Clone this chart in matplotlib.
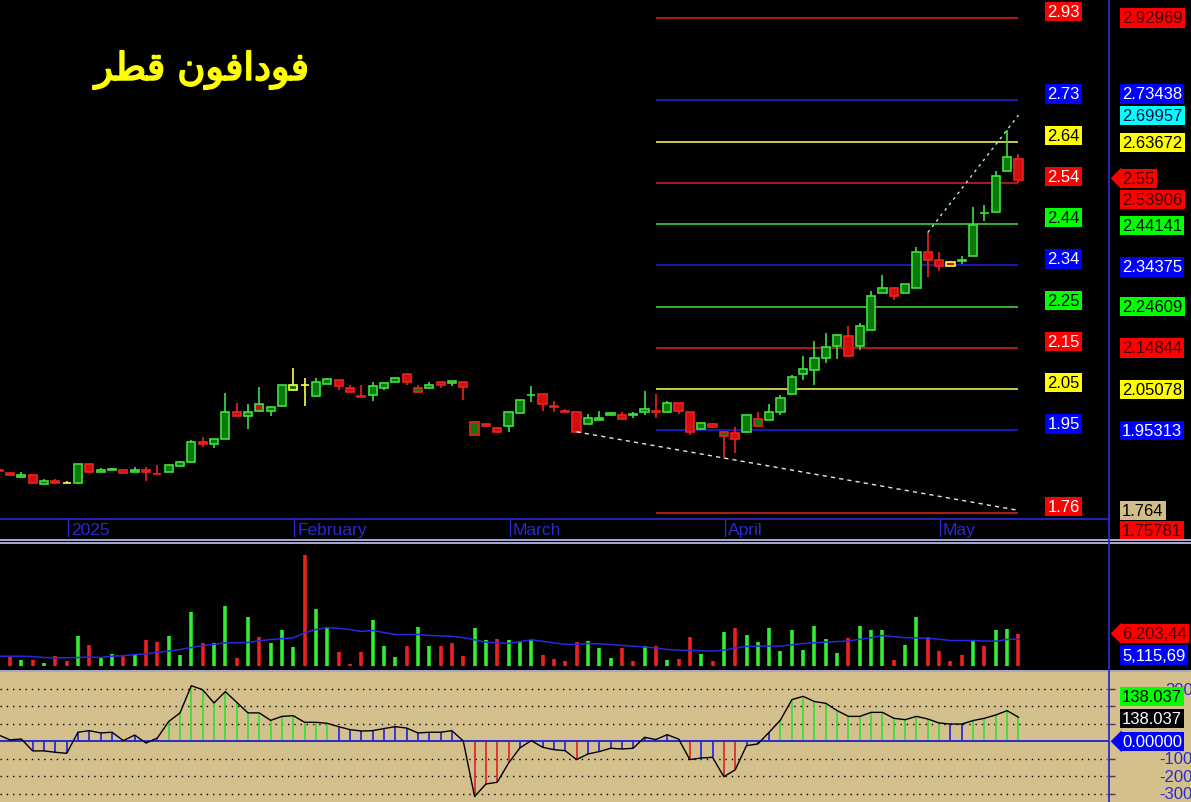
import numpy as np
import matplotlib
matplotlib.use('Agg')
import matplotlib.pyplot as plt
import matplotlib.patheffects as pe
from matplotlib.lines import Line2D
from matplotlib.patches import Polygon
from matplotlib.transforms import IdentityTransform

title = 'فودافون قطر'

opens = [1.860, 1.852, 1.844, 1.847, 1.827, 1.833, 1.828, 1.828, 1.873, 1.856,
         1.859, 1.859, 1.854, 1.860, 1.851, 1.854, 1.869, 1.878, 1.926, 1.922,
         1.934, 1.998, 1.988, 2.015, 2.000, 2.010, 2.048, 2.061, 2.035, 2.064,
         2.073, 2.054, 2.034, 2.038, 2.053, 2.069, 2.087, 2.045, 2.053, 2.067,
         2.070, 2.067, 1.943, 1.964, 1.959, 1.964, 1.994, 2.036, 2.039, 2.011,
         1.999, 1.996, 1.968, 1.979, 1.989, 1.990, 1.992, 1.998, 2.000, 1.998,
         2.018, 1.998, 1.957, 1.969, 1.941, 1.948, 1.949, 1.964, 1.978, 1.996,
         2.039, 2.088, 2.097, 2.124, 2.154, 2.176, 2.154, 2.191, 2.278, 2.290,
         2.278, 2.290, 2.376, 2.357, 2.352, 2.356, 2.366, 2.469, 2.470, 2.567,
         2.597]
highs = [1.861, 1.853, 1.856, 1.848, 1.838, 1.838, 1.833, 1.873, 1.873, 1.864,
         1.864, 1.859, 1.866, 1.866, 1.871, 1.872, 1.882, 1.930, 1.937, 1.934,
         2.043, 2.018, 2.016, 2.055, 2.008, 2.061, 2.101, 2.077, 2.077, 2.077,
         2.073, 2.061, 2.061, 2.067, 2.065, 2.079, 2.087, 2.061, 2.069, 2.067,
         2.070, 2.067, 1.974, 1.970, 1.962, 1.996, 2.025, 2.059, 2.039, 2.024,
         2.005, 1.996, 1.992, 1.999, 1.996, 1.998, 1.998, 2.047, 2.039, 2.024,
         2.018, 1.998, 1.972, 1.972, 1.952, 1.961, 1.990, 1.996, 2.016, 2.037,
         2.085, 2.130, 2.164, 2.185, 2.182, 2.200, 2.207, 2.283, 2.321, 2.292,
         2.299, 2.387, 2.422, 2.375, 2.355, 2.367, 2.483, 2.487, 2.567, 2.665,
         2.608]
lows = [1.856, 1.846, 1.840, 1.828, 1.826, 1.826, 1.828, 1.827, 1.854, 1.856,
        1.859, 1.852, 1.854, 1.834, 1.850, 1.854, 1.869, 1.878, 1.915, 1.911,
        1.934, 1.988, 1.957, 2.000, 1.988, 2.010, 2.048, 2.012, 2.035, 2.063,
        2.050, 2.044, 2.033, 2.024, 2.050, 2.069, 2.061, 2.045, 2.053, 2.054,
        2.059, 2.026, 1.943, 1.964, 1.949, 1.950, 1.994, 2.021, 2.000, 1.998,
        1.998, 1.950, 1.968, 1.979, 1.989, 1.981, 1.983, 1.990, 1.983, 1.998,
        1.992, 1.942, 1.955, 1.960, 1.889, 1.900, 1.947, 1.962, 1.978, 1.990,
        2.039, 2.073, 2.062, 2.112, 2.122, 2.129, 2.144, 2.191, 2.278, 2.263,
        2.278, 2.290, 2.316, 2.331, 2.343, 2.347, 2.366, 2.448, 2.470, 2.567,
        2.539]
closes = [1.857, 1.847, 1.848, 1.828, 1.833, 1.828, 1.828, 1.873, 1.854, 1.860,
          1.863, 1.852, 1.860, 1.855, 1.850, 1.872, 1.878, 1.927, 1.921, 1.933,
          1.998, 1.988, 1.998, 2.000, 2.008, 2.061, 2.061, 2.061, 2.069, 2.075,
          2.059, 2.044, 2.033, 2.058, 2.065, 2.077, 2.067, 2.053, 2.061, 2.060,
          2.066, 2.057, 1.974, 1.968, 1.949, 1.996, 2.025, 2.038, 2.017, 2.009,
          1.998, 1.950, 1.982, 1.983, 1.994, 1.981, 1.990, 2.004, 1.998, 2.018,
          1.999, 1.950, 1.970, 1.962, 1.950, 1.933, 1.990, 1.980, 1.998, 2.029,
          2.079, 2.099, 2.124, 2.150, 2.179, 2.129, 2.200, 2.272, 2.290, 2.271,
          2.299, 2.376, 2.357, 2.343, 2.343, 2.355, 2.440, 2.468, 2.555, 2.600,
          2.546]

# volume in millions of shares
volume = [1.69, 1.87, 1.16, 1.16, 0.58, 1.87, 0.78, 5.76, 3.94, 1.49,
          2.26, 2.13, 2.07, 5.04, 4.52, 5.76, 2.13, 10.28, 4.27, 4.46,
          11.63, 1.49, 9.44, 5.62, 4.27, 6.98, 3.68, 21.52, 11.05, 7.50,
          2.71, 0.20, 2.71, 8.92, 3.82, 1.74, 3.88, 7.50, 3.88, 3.88,
          4.46, 1.87, 7.37, 5.04, 5.23, 5.04, 4.65, 5.04, 2.13, 1.36,
          0.78, 4.65, 4.85, 3.49, 1.55, 3.49, 0.78, 3.88, 3.88, 1.16,
          1.36, 5.49, 2.33, 0.97, 6.59, 7.23, 5.82, 4.65, 7.37, 2.91,
          6.98, 3.10, 7.75, 5.23, 2.52, 5.43, 7.75, 6.85, 6.98, 1.16,
          4.07, 9.31, 5.62, 2.91, 0.78, 2.13, 5.04, 3.88, 6.79, 7.17,
          6.20344]
volume_avg = [1.81, 1.81, 1.81, 1.74, 1.55, 1.50, 1.50, 1.55, 1.65, 1.55,
              1.81, 1.90, 2.13, 2.25, 2.58, 2.80, 3.10, 3.50, 3.88, 4.10,
              4.40, 4.42, 4.46, 4.80, 5.04, 5.20, 5.37, 6.34, 6.98, 7.37,
              7.20, 6.98, 6.60, 6.80, 6.40, 6.01, 6.01, 6.01, 5.82, 5.75,
              5.68, 5.40, 5.00, 4.52, 4.40, 4.30, 4.60, 5.00, 4.70, 4.40,
              4.10, 4.10, 4.27, 4.20, 4.07, 3.90, 3.75, 3.60, 3.42, 3.10,
              3.00, 2.95, 2.85, 2.80, 2.95, 3.40, 3.70, 3.75, 3.75, 3.75,
              4.00, 4.27, 4.40, 4.55, 4.65, 4.75, 5.10, 5.40, 5.82, 5.60,
              5.37, 5.37, 5.30, 5.10, 4.85, 4.85, 4.85, 4.75, 4.72, 5.05,
              5.11569]
cci = [36, 8, 13, -55, -55, -63, -69, 52, 61, 48,
       52, 4, 36, -10, 19, 113, 163, 319, 296, 220,
       285, 224, 163, 163, 120, 143, 147, 109, 109, 103,
       84, 67, 59, 61, 73, 84, 76, 48, 52, 52,
       61, 2, -317, -245, -235, -125, -38, 4, -34, -48,
       -54, -105, -73, -59, -40, -44, -40, 23, 10, 38,
       13, -105, -96, -92, -203, -164, -25, -15, 52, 122,
       239, 258, 228, 218, 176, 143, 143, 166, 166, 132,
       124, 143, 128, 105, 99, 99, 119, 132, 151, 176,
       138.037]

month_names = ['2025', 'February', 'March', 'April', 'May']
month_bars = [6, 26, 45, 64, 83]

levels = [2.92969, 2.73438, 2.63672, 2.53906, 2.44141, 2.34375,
          2.24609, 2.14844, 2.05078, 1.95313, 1.75781]
level_kinds = ['r', 'b', 'y', 'r', 'g', 'b', 'g', 'r', 'y', 'b', 'r']

support_line = [(51, 1.950), (90, 1.764)]
resist_line = [(82, 2.422), (90, 2.69957)]
last_price = 2.55
cci_levels = [300, -100, -200, -300]
cci_grid = [300, 200, 100, -100, -200, -300]

# ---------------------------------------------------------------
FORMS = {  # isolated, final, initial, medial
    'ف': ('\uFED1', '\uFED2', '\uFED3', '\uFED4'),
    'ق': ('\uFED5', '\uFED6', '\uFED7', '\uFED8'),
    'ط': ('\uFEC1', '\uFEC2', '\uFEC3', '\uFEC4'),
    'ن': ('\uFEE5', '\uFEE6', '\uFEE7', '\uFEE8'),
    'و': ('\uFEED', '\uFEEE', None, None),
    'د': ('\uFEA9', '\uFEAA', None, None),
    'ا': ('\uFE8D', '\uFE8E', None, None),
    'ر': ('\uFEAD', '\uFEAE', None, None),
}


def shape_arabic(s):
    # matplotlib has no arabic shaping: pick joined forms and reverse for display
    out = []
    for k, ch in enumerate(s):
        if ch not in FORMS:
            out.append(ch)
            continue
        prev = s[k - 1] if k > 0 else ' '
        nxt = s[k + 1] if k + 1 < len(s) else ' '
        jp = prev in FORMS and FORMS[prev][2] is not None
        jn = FORMS[ch][2] is not None and nxt in FORMS
        f = FORMS[ch]
        out.append(f[3] if jp and jn else f[1] if jp else f[2] if jn else f[0])
    return ''.join(reversed(out))


W, H = 1191, 803
BLUE = '#2a2ad2'
TAN = '#d3c08c'
FONT = 'Liberation Sans'

n = len(closes)
x = np.arange(n)
o = np.array(opens); c = np.array(closes)
prev_c = np.r_[o[0], c[:-1]]
edge = np.where(np.isclose(c, prev_c), '#ffff40', np.where(c > prev_c, '#40e040', '#f02020'))
fill = np.where(np.isclose(c, o), '#000000', np.where(c > o, '#0a780a', '#d01010'))

fig = plt.figure(figsize=(W / 100, H / 100), dpi=100, facecolor='black')
XL = (0.115, 105.23)  # bar index at left / right figure edge


def add_ax(top, bottom, bg):
    a = fig.add_axes([0, 1 - bottom / H, 1, (bottom - top) / H], facecolor=bg)
    a.set_xlim(*XL)
    a.set_xticks([]); a.set_yticks([])
    for s in a.spines.values():
        s.set_visible(False)
    return a


ax = add_ax(0, 540, 'black')
ax.set_ylim(1.69625, 2.97467)
axv = add_ax(544, 669, 'black')
axv.set_ylim(-0.48, 23.75)
axc = add_ax(673, 803, TAN)
axc.set_ylim(-348.3, 397.6)

# --- candles
ax.vlines(x, lows, highs, colors=edge, lw=1.2, zorder=2)
ax.bar(x, np.abs(c - o), bottom=np.minimum(o, c), width=0.72, color=fill,
       edgecolor=edge, linewidth=1.2, zorder=3)

# --- levels
line_col = {'r': '#e02020', 'b': '#2020e8', 'y': '#ffff60', 'g': '#40e040'}
box_col = {'r': '#ff0000', 'b': '#0000ff', 'y': '#ffff00', 'g': '#00ff00'}
txt_col = {'r': 'white', 'b': 'white', 'y': 'black', 'g': 'black'}
rtxt_col = {'r': '#3a0000', 'b': 'white', 'y': 'black', 'g': 'black'}
ax.hlines(levels, 58, 90, colors=[line_col[k] for k in level_kinds], lw=1.1, zorder=1)

ax.plot([p[0] for p in support_line], [p[1] for p in support_line],
        color='#e8e8d8', lw=1, ls=(0, (3, 3)), zorder=4)
ax.plot([p[0] for p in resist_line], [p[1] for p in resist_line],
        color='#b0f0f0', lw=1, ls=(0, (2, 3)), zorder=4)


def tag(a, xi, y, text, fc, tc, dy=0, ha='left', arrow=False, fs=12):
    a.annotate(text, (xi, y), xytext=(0, dy * 0.72), textcoords='offset points',
               ha=ha, va='center', color=tc, fontsize=fs, fontfamily=FONT,
               bbox=dict(boxstyle='square,pad=0.13', fc=fc, ec='none'),
               annotation_clip=False, zorder=20)
    if arrow:
        px, py = a.transData.transform((98.05, y))
        py += dy
        fig.add_artist(Polygon([(px + 1, py), (px + 12, py + 11), (px + 12, py - 11)],
                               closed=True, fc=fc, ec='none',
                               transform=IdentityTransform(), zorder=20))


for lv, k in zip(levels, level_kinds):
    tag(ax, 94.0, lv, f'{lv:.2f}', box_col[k], txt_col[k], dy=6.5, ha='center')

right_dy = {2.73438: 6.5, 2.53906: -16.5, 1.75781: -17.7, 2.34375: -1.5, 2.63672: -1, 2.44141: -1}
for lv, k in zip(levels, level_kinds):
    tag(ax, 99.15, lv, f'{lv:.5f}', box_col[k], rtxt_col[k], dy=right_dy.get(lv, 0))
tag(ax, 99.15, resist_line[1][1], f'{resist_line[1][1]:.5f}', '#00ffff', '#101040')
tag(ax, 99.15, support_line[1][1], f'{support_line[1][1]:.3f}', '#d2bc8a', 'black')
tag(ax, 99.15, last_price, f'{last_price:.2f}', '#ff0000', '#3a0000', arrow=True)

# --- date strip
yf = lambda py: (540 - py) / 540
ax.axhline(1.74362, xmin=0, xmax=(98.0 - XL[0]) / (XL[1] - XL[0]), color=BLUE, lw=1.2)
for name, b in zip(month_names, month_bars):
    ax.plot([b + 0.1, b + 0.1], [yf(520), yf(537)], color=BLUE, lw=1,
            transform=ax.get_xaxis_transform())
    ax.text(b + 0.35, yf(530.5), name, color=BLUE, fontsize=12.5, fontfamily=FONT,
            va='center', ha='left', transform=ax.get_xaxis_transform())

ax.text(202, H - 71, shape_arabic(title), color='#ffff00', fontsize=27.5,
        fontfamily='DejaVu Sans', ha='center', va='center', transform=None,
        path_effects=[pe.withStroke(linewidth=1.3, foreground='#ffff00')])

# --- volume
vcol = np.where(c > o, '#30ee30', '#ee2020')
axv.vlines(x, 0, volume, colors=vcol, lw=2.6)
axv.plot(x, volume_avg, color='#2828e0', lw=1.1)
# right tags show the truncated text visible at the panel edge
tag(axv, 99.15, volume[-1], f'{volume[-1] * 1e6:,.0f}'[:8], '#ff0000', '#500000', arrow=True)
tag(axv, 99.15, volume_avg[-1], f'{volume_avg[-1] * 1e6:,.0f}'[:8], '#0000ff', 'white', dy=-16)

# --- cci
for lv in cci_grid:
    axc.hlines(lv, XL[0], 97.8, colors='black', lw=1, ls=(0, (1, 3.5)))
    axc.hlines(lv, 98.0, 98.5, colors='#404040', lw=1)
for lv in cci_levels:
    axc.text(105.4, lv, f'{lv}', color=BLUE, fontsize=12, fontfamily=FONT,
             ha='right', va='center', zorder=5)
axc.hlines(0, XL[0], 98.0, colors=BLUE, lw=1.4, zorder=3)
ci = np.array(cci)
scol = np.where(ci > 100, '#30e030', np.where(ci < -100, '#e02020', '#2020e0'))
axc.vlines(x, 0, ci, colors=scol, lw=1.2, zorder=2)
axc.plot(x, ci, color='black', lw=1, zorder=4)
tag(axc, 99.15, ci[-1], f'{ci[-1]:.3f}', '#00ff00', 'black', dy=21)
tag(axc, 99.15, ci[-1], f'{ci[-1]:.3f}', '#000000', 'white', dy=-1)
tag(axc, 99.15, 0, f'{0:.5f}', '#0000ff', 'white', arrow=True)

# --- separators
for py in (541, 543.5, 671.5):
    fig.add_artist(Line2D([0, 1], [1 - py / H] * 2, color='#c8c8f4', lw=1.2))
fig.add_artist(Line2D([1109 / W] * 2, [0, 1], color=BLUE, lw=1.3, zorder=15))

fig.savefig('out.png', dpi=100, facecolor='black')
